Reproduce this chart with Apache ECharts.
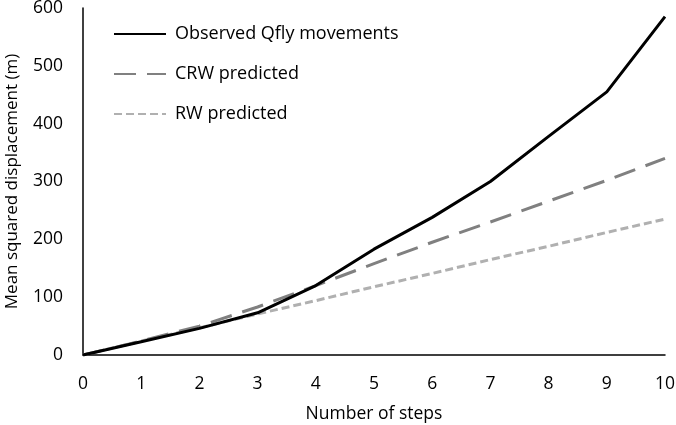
<!DOCTYPE html>
<html><head><meta charset="utf-8">
<script src="https://cdn.jsdelivr.net/npm/echarts@6/dist/echarts.min.js"></script>
<style>html,body{margin:0;padding:0;background:#fff}#c{width:676px;height:425px}</style>
</head><body><div id="c"></div>
<script>
const steps = [0,1,2,3,4,5,6,7,8,9,10];
const observed = [0,23,46,73,120,183,238,300,378,455,585];
const crw = [0,24,50,83,120,158,195,230,266,302,340];
const rw = [0,24,47,71,94,118,141,165,188,212,235];
const xTicks = [0,1,2,3,4,5,6,7,8,9,10];
const yTicks = [0,100,200,300,400,500,600];
const font = "'Open Sans', sans-serif";
const chart = echarts.init(document.getElementById('c'));
const pair = a => a.map((v,i)=>[steps[i],v]);
chart.setOption({
  animation:false,
  textStyle:{fontFamily:font},
  grid:{left:83,right:11,top:8,bottom:70,containLabel:false,outerBoundsMode:'none'},
  legend:{orient:'vertical',left:108,top:20,itemWidth:52,itemHeight:14,itemGap:22,
    itemStyle:{opacity:0},
    textStyle:{fontSize:18,color:'#000',fontFamily:font,padding:[0,0,0,4]},
    data:['Observed Qfly movements','CRW predicted','RW predicted']},
  xAxis:{type:'value',min:xTicks[0],max:xTicks[xTicks.length-1],interval:1,
    name:'Number of steps',nameLocation:'middle',nameGap:50,
    nameTextStyle:{fontSize:17.5,color:'#000',fontFamily:font},
    axisLine:{lineStyle:{color:'#000',width:1.5}},axisTick:{show:false},splitLine:{show:false},
    axisLabel:{fontSize:17.5,color:'#000',margin:20,fontFamily:font}},
  yAxis:{type:'value',min:yTicks[0],max:yTicks[yTicks.length-1],interval:100,
    name:'Mean squared displacement (m)',nameLocation:'middle',nameGap:62,
    nameTextStyle:{fontSize:17,color:'#000',fontFamily:font},
    axisLine:{show:true,lineStyle:{color:'#000',width:1.5}},axisTick:{show:false},splitLine:{show:false},
    axisLabel:{fontSize:17.5,color:'#000',margin:20,fontFamily:font}},
  series:[
    {name:'Observed Qfly movements',type:'line',data:pair(observed),showSymbol:false,symbol:'none',
      lineStyle:{color:'#000',width:3},itemStyle:{color:'#000'},z:3},
    {name:'CRW predicted',type:'line',data:pair(crw),showSymbol:false,symbol:'none',
      lineStyle:{color:'#808080',width:3,type:[22,11]},itemStyle:{color:'#808080'},z:2},
    {name:'RW predicted',type:'line',data:pair(rw),showSymbol:false,symbol:'none',
      lineStyle:{color:'#b0b0b0',width:3,type:[8,4]},itemStyle:{color:'#b0b0b0'},z:1}
  ]
});
</script></body></html>
